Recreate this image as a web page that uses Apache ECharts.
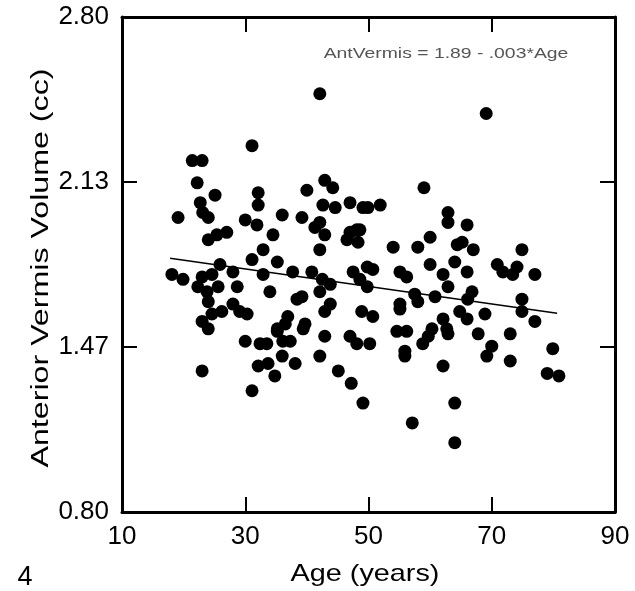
<!DOCTYPE html>
<html>
<head>
<meta charset="utf-8">
<title>Anterior Vermis Volume vs Age</title>
<script src="https://cdn.jsdelivr.net/npm/echarts@6/dist/echarts.min.js"></script>
<style>
  html, body { margin: 0; padding: 0; background: #fff; }
  #chart { width: 635px; height: 591px; }
</style>
</head>
<body>
<div id="chart"></div>
<script>
// ages (years) and anterior vermis volume (cc)
const ages = [
  42.1, 69.1, 31.1, 21.4, 23.0, 22.2, 42.9, 44.2, 40.0, 32.1, 32.1, 59.0,
  25.1, 22.7, 23.1, 24.0, 19.1, 30.0, 25.4, 27.0, 24.0, 31.1, 25.9, 28.0,
  18.1, 19.9, 23.0, 24.6, 22.3, 23.8, 25.6, 24.0, 28.7, 24.6, 26.2, 28.0,
  29.1, 30.3, 23.0, 24.0, 30.0, 23.0, 31.1,
  36.0, 39.2, 42.1, 41.3, 42.9, 42.6, 44.6, 47.0, 49.1, 31.9, 47.0, 48.1,
  48.3, 46.5, 34.5, 32.9, 42.1, 35.2, 32.9, 37.7, 40.8, 42.5, 43.8, 47.5,
  49.8, 48.6, 49.8, 34.0, 42.1, 38.4, 39.2, 42.9, 43.8, 48.9, 36.9, 36.5,
  35.2, 39.7, 39.4, 42.9, 47.0, 48.1, 33.5, 36.1, 37.3, 32.4, 35.2, 42.1,
  32.1, 33.7, 36.0, 38.1, 34.8, 45.1, 47.2, 49.1,
  49.9, 51.9, 62.9, 62.9, 66.0, 48.6, 60.0, 54.0, 58.0, 64.4, 65.2, 67.0,
  60.0, 64.0, 50.7, 55.1, 56.2, 62.1, 62.9, 66.0, 57.5, 58.0, 60.8, 66.8,
  66.1, 55.1, 55.1, 50.7, 64.8, 66.0, 62.1, 62.7, 60.3, 59.7, 54.6, 56.2,
  58.8, 55.9, 55.9, 50.2, 62.9, 67.8, 70.0, 69.2, 73.0, 62.1, 73.0, 74.9,
  70.9, 71.8, 73.4, 74.1, 77.0, 74.9, 74.9, 77.0, 68.9, 79.9, 79.0, 80.9,
  64.0, 57.1, 64.0
]
const volumes = [
  2.49, 2.41, 2.28, 2.22, 2.22, 2.13, 2.14, 2.11, 2.10, 2.09, 2.04, 2.11,
  2.08, 2.05, 2.01, 1.99, 1.99, 1.98, 1.92, 1.93, 1.90, 1.82, 1.80, 1.77,
  1.76, 1.74, 1.75, 1.76, 1.71, 1.69, 1.71, 1.65, 1.71, 1.60, 1.61, 1.64,
  1.61, 1.60, 1.57, 1.54, 1.49, 1.37, 1.29,
  2.00, 1.99, 1.97, 1.95, 1.92, 2.04, 2.03, 2.05, 2.03, 1.96, 1.93, 1.94,
  1.89, 1.90, 1.92, 1.86, 1.86, 1.81, 1.76, 1.77, 1.77, 1.74, 1.72, 1.77,
  1.79, 1.74, 1.71, 1.69, 1.69, 1.66, 1.67, 1.61, 1.64, 1.61, 1.59, 1.56,
  1.54, 1.56, 1.54, 1.51, 1.51, 1.48, 1.48, 1.49, 1.49, 1.48, 1.53, 1.43,
  1.39, 1.40, 1.43, 1.40, 1.35, 1.37, 1.32, 1.24,
  2.03, 2.04, 2.01, 1.97, 1.96, 1.94, 1.91, 1.87, 1.87, 1.88, 1.89, 1.86,
  1.80, 1.81, 1.78, 1.77, 1.75, 1.76, 1.71, 1.77, 1.68, 1.65, 1.67, 1.69,
  1.66, 1.64, 1.62, 1.59, 1.61, 1.58, 1.58, 1.54, 1.54, 1.51, 1.53, 1.53,
  1.48, 1.45, 1.43, 1.48, 1.52, 1.52, 1.47, 1.43, 1.41, 1.39, 1.52, 1.86,
  1.80, 1.77, 1.76, 1.79, 1.76, 1.66, 1.61, 1.57, 1.60, 1.46, 1.36, 1.35,
  1.24, 1.16, 1.08
]

// fitted line as drawn, end points
const fitAges = [17.8, 80.6]
const fitVolumes = [1.825, 1.603]

const xTicks = [10, 30, 50, 70, 90]
const yTicks = [0.8, 2.8 - 4 / 3, 2.8 - 2 / 3, 2.8]

const chart = echarts.init(document.getElementById('chart'))

const points = ages.map((a, i) => [a, volumes[i]])
const fit = fitAges.map((a, i) => [a, fitVolumes[i]])

const sans = '"Liberation Sans", Arial, sans-serif'
const tickFont = {
  fontFamily: sans,
  fontSize: 26,
  color: '#000'
}
const frameLine = { color: '#000', width: 3 }
const tickLine = { color: '#000', width: 2 }

chart.setOption({
  animation: false,
  backgroundColor: '#fff',
  grid: {
    left: 122,
    right: 20,
    top: 17,
    bottom: 79
  },
  xAxis: [
    {
      type: 'value',
      min: 10,
      max: 90,
      axisLine: { lineStyle: frameLine },
      axisTick: {
        inside: true,
        length: 15,
        customValues: xTicks,
        lineStyle: tickLine
      },
      axisLabel: {
        customValues: xTicks,
        margin: 12,
        ...tickFont
      },
      splitLine: { show: false }
    },
    {
      type: 'value',
      position: 'top',
      min: 10,
      max: 90,
      axisLine: { lineStyle: frameLine },
      axisTick: {
        inside: true,
        length: 15,
        customValues: xTicks,
        lineStyle: tickLine
      },
      axisLabel: { show: false },
      splitLine: { show: false }
    }
  ],
  yAxis: [
    {
      type: 'value',
      min: 0.8,
      max: 2.8,
      axisLine: { show: true, lineStyle: frameLine },
      axisTick: {
        show: true,
        inside: true,
        length: 15,
        customValues: yTicks,
        lineStyle: tickLine
      },
      axisLabel: {
        customValues: yTicks,
        margin: 13,
        formatter: v => v.toFixed(2),
        ...tickFont
      },
      splitLine: { show: false }
    },
    {
      type: 'value',
      position: 'right',
      min: 0.8,
      max: 2.8,
      axisLine: { show: true, lineStyle: frameLine },
      axisTick: {
        show: true,
        inside: true,
        length: 15,
        customValues: yTicks,
        lineStyle: tickLine
      },
      axisLabel: { show: false },
      splitLine: { show: false }
    }
  ],
  // titles are drawn as text so they can be stretched like the scan
  graphic: [
    {
      type: 'text',
      x: 42,
      y: 268,
      rotation: Math.PI / 2,
      scaleX: 1.4,
      style: {
        text: 'Anterior Vermis Volume (cc)',
        font: '23px ' + sans,
        fill: '#000',
        align: 'center',
        verticalAlign: 'middle'
      }
    },
    {
      type: 'text',
      x: 365,
      y: 574,
      scaleX: 1.2,
      style: {
        text: 'Age (years)',
        font: '24px ' + sans,
        fill: '#000',
        align: 'center',
        verticalAlign: 'middle'
      }
    },
    {
      type: 'text',
      x: 446,
      y: 54,
      scaleX: 1.29,
      style: {
        text: 'AntVermis = 1.89 - .003*Age',
        font: '15px ' + sans,
        fill: '#555',
        align: 'center',
        verticalAlign: 'middle'
      }
    },
    {
      type: 'text',
      x: 25,
      y: 578,
      style: {
        text: '4',
        fontSize: 27,
        fontFamily: sans,
        fill: '#000',
        align: 'center',
        verticalAlign: 'middle'
      }
    }
  ],
  series: [
    {
      type: 'scatter',
      data: points,
      symbol: 'circle',
      symbolSize: 13,
      itemStyle: { color: '#000', opacity: 1 },
      z: 2
    },
    {
      type: 'line',
      data: fit,
      symbol: 'none',
      lineStyle: { color: '#000', width: 1.5 },
      z: 3
    }
  ]
})
</script>
</body>
</html>
